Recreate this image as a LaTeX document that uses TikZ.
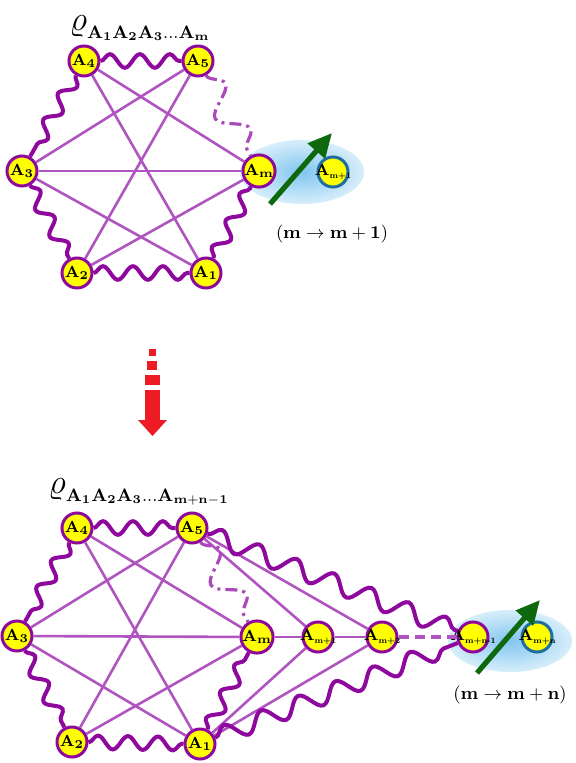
\documentclass[tikz,border=0pt]{standalone}
\usepackage{amsmath, amsfonts, amssymb}
\usepackage{graphicx}
\usepackage{xcolor}
\usetikzlibrary{decorations.pathmorphing, arrows.meta}
\definecolor{wavecol}{RGB}{142,8,158}
\definecolor{linkcol}{RGB}{176,84,192}
\definecolor{ringblue}{RGB}{30,110,160}
\definecolor{spingreen}{RGB}{14,104,14}
\definecolor{arrred}{RGB}{237,28,36}
\definecolor{nodeyellow}{RGB}{255,255,0}
\definecolor{glowin}{RGB}{130,198,240}
\definecolor{glowout}{RGB}{215,238,250}
% party label with a small subscript
\newcommand{\plab}[1]{\makebox[0pt][c]{\textbf{A}\raisebox{-1.3pt}{\scalebox{0.52}{\bfseries #1}}}}

\begin{document}
\begin{tikzpicture}[x=0.5pt, y=-0.5pt,
    party/.style={circle, draw=wavecol, fill=nodeyellow, line width=1.5pt,
        minimum size=15pt, inner sep=0pt, font=\fontsize{8}{8}\selectfont},
    newparty/.style={party, draw=ringblue},
    link/.style={draw=linkcol, line width=1.3pt},
    gap/.style={draw=linkcol, line width=1.6pt, dash pattern=on 5pt off 3pt},
    wavy/.style={draw=wavecol, line width=2pt, decorate,
        decoration={snake, segment length=15pt, amplitude=3.4pt}},
    longwavy/.style={wavy, decoration={snake, segment length=20pt, amplitude=4.5pt}},
    dotwavy/.style={draw=linkcol!85!wavecol, line width=1.6pt,
        dash pattern=on 6pt off 2.5pt on 1.5pt off 2.5pt, decorate,
        decoration={snake, segment length=26pt, amplitude=6.5pt}},
    spin/.style={draw=spingreen, line width=2.6pt, -{Triangle[length=12pt, width=11pt]}},
    title/.style={font=\fontsize{13}{15}\selectfont},
    steplabel/.style={font=\fontsize{9}{11}\selectfont}]
    \useasboundingbox (0,0) rectangle (576,763);

    % before: m parties
    \shade[inner color=glowin, outer color=glowout] (302,172) ellipse (62 and 32);
    \node[title] (rhotop) at (140,28)
        {$\text{\fontsize{17}{17}\selectfont$\varrho$}_{\mathbf{A_1A_2A_3\ldots A_m}}$};
    \node[party] (a4) at (84,61) {$\mathbf{A_4}$};
    \node[party] (a5) at (198,61) {$\mathbf{A_5}$};
    \node[party] (a3) at (22,171) {$\mathbf{A_3}$};
    \node[party] (am) at (259,171) {$\mathbf{A_m}$};
    \node[party] (a2) at (77,273) {$\mathbf{A_2}$};
    \node[party] (a1) at (206,273) {$\mathbf{A_1}$};
    \node[newparty] (amp) at (333,172) {\plab{m+1}};
    \foreach \s/\t in {a3/am, a3/a5, a3/a1, a4/am, a4/a1, a5/a2, a2/am}
        \draw[link] (\s) -- (\t);
    \foreach \s/\t in {a4/a5, a4/a3, a3/a2, a2/a1, a1/am}
        \draw[wavy] (\s) -- (\t);
    \draw[dotwavy] (a5) -- (am);
    \coordinate (spintailtop) at (270,204);
    \coordinate (spintiptop) at (332,133);
    \draw[spin] (spintailtop) -- (spintiptop);
    \node[steplabel] (steptop) at (332,234) {$(\mathbf{m\rightarrow m+1})$};

    % red arrow
    \fill[arrred] (149,349) rectangle (156,356);
    \fill[arrred] (147,361) rectangle (157,370);
    \fill[arrred] (145,375) rectangle (160,385);
    \fill[arrred] (145,390) rectangle (160,421);
    \fill[arrred] (138,420) -- (167,420) -- (152.5,436) -- cycle;

    % after: m+n parties
    \shade[inner color=glowin, outer color=glowout] (510,641) ellipse (62 and 31);
    \node[title] (rhobot) at (139,492)
        {$\text{\fontsize{17}{17}\selectfont$\varrho$}_{\mathbf{A_1A_2A_3\ldots A_{m+n-1}}}$};
    \node[party] (b4) at (77,528) {$\mathbf{A_4}$};
    \node[party] (b5) at (192,528) {$\mathbf{A_5}$};
    \node[party] (b3) at (17,636) {$\mathbf{A_3}$};
    \node[party] (bm) at (257,637) {$\mathbf{A_m}$};
    \node[party] (bm1) at (318,637) {\plab{m+1}};
    \node[party] (bm2) at (382,637) {\plab{m+2}};
    \node[party] (bmn1) at (473,637) {\plab{m+n-1}};
    \node[newparty] (bmn) at (537,637) {\plab{m+n}};
    \node[party] (b2) at (72,742) {$\mathbf{A_2}$};
    \node[party] (b1) at (200,744) {$\mathbf{A_1}$};
    \foreach \s/\t in {b3/bm, b3/b5, b3/b1, b4/bm, b4/b1, b5/b2, b2/bm,
        b5/bm1, b5/bm2, b1/bm1, b1/bm2, bm/bm1, bm1/bm2}
        \draw[link] (\s) -- (\t);
    \draw[gap] (bm2) -- (bmn1);
    \foreach \s/\t in {b4/b5, b4/b3, b3/b2, b2/b1, b1/bm}
        \draw[wavy] (\s) -- (\t);
    \draw[longwavy] (b5) -- (bmn1);
    \draw[longwavy] (b1) -- (bmn1);
    \draw[dotwavy] (b5) -- (bm);
    \coordinate (spintailbot) at (477,673);
    \coordinate (spintipbot) at (540,600);
    \draw[spin] (spintailbot) -- (spintipbot);
    \node[steplabel] (stepbot) at (510,695) {$(\mathbf{m\rightarrow m+n})$};
\end{tikzpicture}
\end{document}
